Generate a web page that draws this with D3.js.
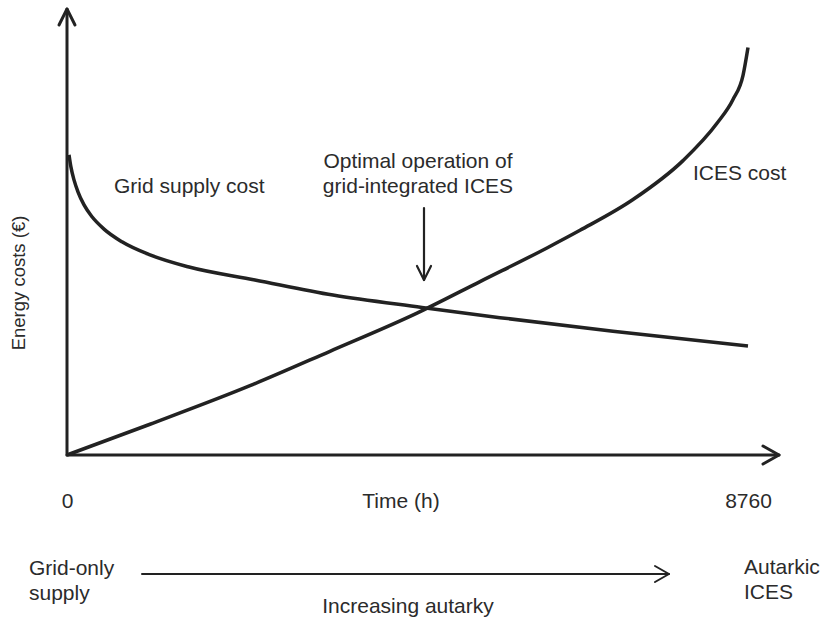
<!DOCTYPE html>
<html>
<head>
<meta charset="utf-8">
<script src="https://cdn.jsdelivr.net/npm/d3@7"></script>
<style>
  html, body { margin: 0; padding: 0; background: #ffffff; }
  svg text { font-family: "Liberation Sans", Arial, Helvetica, sans-serif; fill: #2b2b2b; }
</style>
</head>
<body>
<svg id="chart" width="823" height="621"></svg>
<script>
// ---- data (hours of autarkic operation vs relative energy cost) ----
const gridHours = [26, 51, 90, 141, 219, 322, 476, 707, 1068, 1557, 2418, 3421, 4566, 5569, 7023, 8760];
const gridCost  = [73.2, 70.2, 67.1, 64.2, 61.0, 58.1, 55.1, 52.0, 48.8, 45.9, 42.7, 39.0, 36.0, 33.5, 30.2, 26.6];

const icesHours = [0, 1068, 2354, 3383, 4502, 5313, 6174, 6599, 7281, 7924, 8361, 8567, 8696, 8760];
const icesCost  = [0, 7.5, 16.9, 25.3, 34.6, 42.3, 50.5, 54.8, 62.3, 71.8, 80.9, 86.7, 92.6, 99.4];

const xTickValues = [0, 8760];
const xTickLabels = ["0", "8760"];
const xAxisTitle = "Time (h)";
const yAxisTitle = "Energy costs (\u20AC)";
const curveLabels = ["Grid supply cost", "ICES cost"];
const annotationLines = ["Optimal operation of", "grid-integrated ICES"];
const autarkyLeft = ["Grid-only", "supply"];
const autarkyRight = ["Autarkic", "ICES"];
const autarkyTitle = "Increasing autarky";

// ---- layout ----
const svg = d3.select("#chart");
const ink = "#222222";
const x = d3.scaleLinear().domain([0, 8760]).range([67, 748]);
const y = d3.scaleLinear().domain([0, 100]).range([455, 45]);

// axes with arrows
const axisG = svg.append("g").attr("stroke", ink).attr("fill", "none")
  .attr("stroke-width", 3).attr("stroke-linecap", "round").attr("stroke-linejoin", "round");
axisG.append("line").attr("x1", x(0)).attr("y1", y(0)).attr("x2", x(0)).attr("y2", 9);
axisG.append("polyline").attr("points", `${x(0)-8},25 ${x(0)},9 ${x(0)+8},25`);
axisG.append("line").attr("x1", x(0)).attr("y1", y(0)).attr("x2", 779).attr("y2", y(0));
axisG.append("polyline").attr("points", `763,${y(0)-9} 779,${y(0)} 763,${y(0)+9}`);

// x tick labels (no tick marks)
const xAxis = d3.axisBottom(x).tickValues(xTickValues)
  .tickFormat((d, i) => xTickLabels[i]).tickSize(0).tickPadding(0);
const xg = svg.append("g").attr("transform", `translate(0,${y(0)})`).call(xAxis);
xg.select(".domain").remove();
xg.selectAll("text").attr("font-size", 21).attr("dy", null).attr("y", 53)
  .style("font-family", '"Liberation Sans", Arial, sans-serif').attr("fill", "#2b2b2b");

svg.append("text").attr("x", 401).attr("y", 508).attr("text-anchor", "middle")
  .attr("font-size", 21).text(xAxisTitle);
svg.append("text").attr("transform", "translate(25,283) rotate(-90)")
  .attr("text-anchor", "middle").attr("font-size", 18.5).text(yAxisTitle);

// curves
const line = d3.line().x(d => x(d[0])).y(d => y(d[1])).curve(d3.curveMonotoneX);
svg.append("path").datum(d3.zip(gridHours, gridCost)).attr("d", line)
  .attr("fill", "none").attr("stroke", ink).attr("stroke-width", 3.5);
svg.append("path").datum(d3.zip(icesHours, icesCost)).attr("d", line)
  .attr("fill", "none").attr("stroke", ink).attr("stroke-width", 3.5);

// curve labels
svg.append("text").attr("x", 114).attr("y", 193).attr("font-size", 21).text(curveLabels[0]);
svg.append("text").attr("x", 693).attr("y", 180).attr("font-size", 21).text(curveLabels[1]);

// annotation
svg.append("text").attr("x", 418).attr("y", 168).attr("text-anchor", "middle")
  .attr("font-size", 21).text(annotationLines[0]);
svg.append("text").attr("x", 418).attr("y", 193).attr("text-anchor", "middle")
  .attr("font-size", 21).text(annotationLines[1]);
const ann = svg.append("g").attr("stroke", ink).attr("stroke-width", 2.2).attr("fill", "none")
  .attr("stroke-linecap", "round").attr("stroke-linejoin", "round");
ann.append("line").attr("x1", 424).attr("y1", 208).attr("x2", 424).attr("y2", 280);
ann.append("polyline").attr("points", "417,266 424,280 431,266");

// autarky scale beneath
svg.append("text").attr("x", 29).attr("y", 575).attr("font-size", 21).text(autarkyLeft[0]);
svg.append("text").attr("x", 29).attr("y", 600).attr("font-size", 21).text(autarkyLeft[1]);
svg.append("text").attr("x", 744).attr("y", 574).attr("font-size", 21).text(autarkyRight[0]);
svg.append("text").attr("x", 744).attr("y", 599).attr("font-size", 21).text(autarkyRight[1]);
svg.append("text").attr("x", 408).attr("y", 613).attr("text-anchor", "middle")
  .attr("font-size", 21).text(autarkyTitle);
const arr = svg.append("g").attr("stroke", ink).attr("stroke-width", 2).attr("fill", "none")
  .attr("stroke-linecap", "round").attr("stroke-linejoin", "round");
arr.append("line").attr("x1", 142).attr("y1", 574).attr("x2", 669).attr("y2", 574);
arr.append("polyline").attr("points", "655,566 669,574 655,582");
</script>
</body>
</html>
